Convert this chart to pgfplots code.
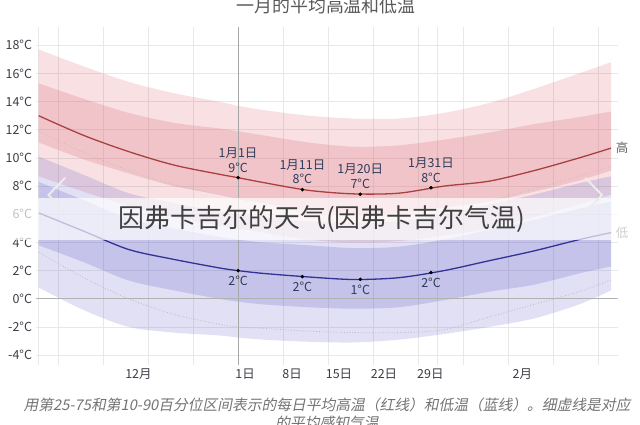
\documentclass[border=0pt]{standalone}
\usepackage{fontspec}
\setmainfont{Noto Sans CJK SC}
\newfontfamily\capfont{Noto Sans CJK SC}[FakeSlant=0.2]
\usepackage{pgfplots}
\pgfplotsset{compat=1.18}
\usepackage{pgfplotstable}
\usepgfplotslibrary{fillbetween}

\definecolor{hired}{RGB}{215,85,100}
\definecolor{lobl}{RGB}{95,90,195}
\definecolor{hiline}{RGB}{168,64,64}
\definecolor{loline}{RGB}{50,50,150}
\definecolor{gridc}{RGB}{232,232,232}
\definecolor{annot}{RGB}{45,60,90}
\definecolor{tickc}{RGB}{60,60,70}

% day 0 = 1 Jan
\pgfplotstableread{
x   hm    h90  h75  h25  h10  hf    lm   l90  l75  l25  l10   lf
-31 13.0  17.7 15.3 11.1 8.7  11.9  6.1  10.1 8.3  3.8  0.8   3.3
-24 11.6  16.5 14.2 9.9  7.6  10.4  4.8  8.8  7.0  2.6  -0.8  1.5
-17 10.45 15.4 13.2 8.9  6.6  9.1   3.5  7.5  5.7  1.3  -2.0  0.0
-10 9.5   14.6 12.5 8.0  5.8  8.1   2.8  6.8  5.0  0.6  -2.4  -1.1
-3  8.85  14.0 12.1 7.4  5.2  7.4   2.2  6.2  4.4  0.0  -2.6  -1.8
0   8.6   13.7 11.9 7.1  5.0  7.1   2.0  6.0  4.2  -0.2 -2.75 -2.0
4   8.25  13.4 11.6 6.8  4.7  6.8   1.8  5.8  4.0  -0.4 -2.9  -2.1
11  7.7   13.0 11.1 6.3  4.2  6.2   1.55 5.5  3.8  -0.6 -3.05 -2.3
18  7.45  12.8 10.8 6.0  4.0  5.9   1.37 5.4  3.6  -0.7 -3.1  -2.4
25  7.5   12.8 10.9 6.1  4.1  6.0   1.5  5.5  3.7  -0.6 -2.9  -2.4
32  8.0   13.2 11.3 6.5  4.5  6.5   2.0  6.0  4.2  -0.1 -2.5  -2.2
39  8.35  13.9 11.8 6.9  5.0  7.0   2.7  6.7  4.9  0.5  -2.0  -1.3
46  9.1   14.9 12.4 7.6  5.8  7.8   3.4  7.4  5.6  1.0  -1.4  -0.4
53  10.0  16.0 12.9 8.4  6.7  8.7   4.2  8.2  6.4  1.8  -0.4  0.5
58  10.7  16.8 13.3 9.1  7.4  9.4   4.7  8.7  6.9  2.3  0.6   1.35
}\temps

\begin{document}
\begin{tikzpicture}
\begin{axis}[
  at={(0,0)}, anchor=south west,
  scale only axis, width=582bp, height=338bp,
  xmin=-31.5, xmax=59, ymin=-4.7, ymax=19.3,
  axis line style={draw=none},
  tick style={draw=none},
  ytick={-4,-2,...,18},
  yticklabels={-4°C,-2°C,0°C,2°C,4°C,6°C,8°C,10°C,12°C,14°C,16°C,18°C},
  ymajorgrids,
  grid style={gridc, line width=0.7pt},
  xtick={-15.5,1.1,8.4,15.7,22.7,29.9,44.2},
  xticklabels={12月,1日,8日,15日,22日,29日,2月},
  extra x ticks={-31,-28,-21,-14,-7,0,7,14,21,28,31,35,42,49,56},
  extra x tick labels={},
  extra x tick style={grid=major},
  ticklabel style={font=\fontsize{12.5}{14}\selectfont, text=tickc},
]
% reference lines
\draw[black!35, line width=0.7pt] (axis cs:0,-4.7) -- (axis cs:0,19.3);
\draw[black!30, line width=0.7pt] (axis cs:-31.5,0) -- (axis cs:59,0);

% bands
\addplot[draw=none, smooth, name path=h90] table[x=x, y=h90] {\temps};
\addplot[draw=none, smooth, name path=h75] table[x=x, y=h75] {\temps};
\addplot[draw=none, smooth, name path=h25] table[x=x, y=h25] {\temps};
\addplot[draw=none, smooth, name path=h10] table[x=x, y=h10] {\temps};
\addplot[draw=none, smooth, name path=l90] table[x=x, y=l90] {\temps};
\addplot[draw=none, smooth, name path=l75] table[x=x, y=l75] {\temps};
\addplot[draw=none, smooth, name path=l25] table[x=x, y=l25] {\temps};
\addplot[draw=none, smooth, name path=l10] table[x=x, y=l10] {\temps};

\addplot[fill=hired, fill opacity=0.18, draw=none] fill between[of=h90 and h10];
\addplot[fill=hired, fill opacity=0.20, draw=none] fill between[of=h75 and h25];
\addplot[fill=lobl, fill opacity=0.19, draw=none] fill between[of=l90 and l10];
\addplot[fill=lobl, fill opacity=0.22, draw=none] fill between[of=l75 and l25];

% feels-like
\addplot[white!50!gray, dotted, line width=0.8pt, smooth] table[x=x, y=hf] {\temps};
\addplot[white!45!gray, dotted, line width=0.8pt, smooth] table[x=x, y=lf] {\temps};

% means
\addplot[hiline, line width=1.3pt, smooth] table[x=x, y=hm] {\temps};
\addplot[loline, line width=1.3pt, smooth] table[x=x, y=lm] {\temps};

\addplot[only marks, mark=*, mark size=1.6pt, black] coordinates {(0,8.6) (10,7.75) (19,7.42) (30,7.88)};
\addplot[only marks, mark=*, mark size=1.6pt, black] coordinates {(0,2.0) (10,1.58) (19,1.38) (30,1.86)};

\begin{scope}[every node/.style={font=\fontsize{12.5}{15}\selectfont, text=annot, align=center}]
\node[anchor=south] at (axis cs:0,8.6) [yshift=2bp] {1月1日\\9°C};
\node[anchor=south] at (axis cs:10,7.75) [yshift=2bp] {1月11日\\8°C};
\node[anchor=south] at (axis cs:19,7.42) [yshift=2bp] {1月20日\\7°C};
\node[anchor=south] at (axis cs:30,7.88) [yshift=2bp] {1月31日\\8°C};
\node[anchor=north] at (axis cs:0,2.0) [yshift=-2bp] {2°C};
\node[anchor=north] at (axis cs:10,1.58) [yshift=-2bp] {2°C};
\node[anchor=north] at (axis cs:19,1.38) [yshift=-2bp] {1°C};
\node[anchor=north] at (axis cs:30,1.86) [yshift=-2bp] {2°C};
\end{scope}
\end{axis}

\pgfresetboundingbox
\useasboundingbox (-35.5bp,-60bp) rectangle (604.5bp,365bp);

% series labels
\node[font=\fontsize{12.5}{14}\selectfont, text=black!60] at (586.5bp,217bp) {高};
\node[font=\fontsize{12.5}{14}\selectfont, text=black!60] at (586.5bp,132bp) {低};

% title (cut at top)
\node[font=\fontsize{18}{20}\selectfont, text=black!65] at (290.5bp,359bp) {一月的平均高温和低温};

% caption
\node[font=\capfont\fontsize{14.8}{18}\selectfont, text=black!55, align=center] at (291.5bp,-49bp)
  {用第25-75和第10-90百分位区间表示的每日平均高温（红线）和低温（蓝线）。细虚线是对应\\的平均感知气温};

% watermark band
\fill[white, opacity=0.68] (-35.5bp,125bp) rectangle (604.5bp,167bp);
\node[font=\fontsize{26}{28}\selectfont, text=black!75] at (286.5bp,146bp) {因弗卡吉尔的天气(因弗卡吉尔气温)};

% carousel arrows
\draw[white!85!gray, line width=2pt, line cap=round] (29.5bp,187bp) -- (13bp,170bp) -- (29.5bp,153bp);
\draw[white!85!gray, line width=2pt, line cap=round] (550bp,187bp) -- (566.5bp,170bp) -- (550bp,153bp);
\end{tikzpicture}
\end{document}
